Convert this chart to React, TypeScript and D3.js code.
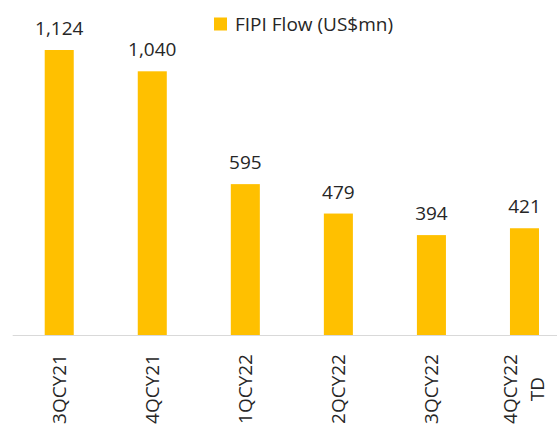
import React from 'react';
import * as d3 from 'd3';

const categories = ['3QCY21', '4QCY21', '1QCY22', '2QCY22', '3QCY22', '4QCY22 TD'];
const flows = [1124, 1040, 595, 479, 394, 421];
const seriesName = 'FIPI Flow (US$mn)';

const W = 557, H = 429;
const baseY = 335;
const font = '"Open Sans", "Noto Sans", sans-serif';

export default function App() {
  const x = d3.scaleBand<string>()
    .domain(categories)
    .range([12.7, 571])
    .paddingInner(0.688)
    .paddingOuter(0.344);

  const y = d3.scaleLinear()
    .domain([0, 1124])
    .range([baseY, 50]);

  const fmt = d3.format(',');

  return (
    <svg width={W} height={H} style={{ position: 'absolute', left: 0, top: 0 }} fontFamily={font}>
      <rect width={W} height={H} fill="#fff" />
      {/* legend */}
      <rect x={214} y={17.5} width={13} height={13} fill="#FFC000" />
      <text x={235} y={31} fontSize={19} fill="#262626">{seriesName}</text>

      {/* bars */}
      {categories.map((c, i) => (
        <rect key={c} x={x(c)} y={y(flows[i])} width={x.bandwidth()}
          height={baseY - y(flows[i])} fill="#FFC000" />
      ))}

      {/* value labels */}
      {categories.map((c, i) => (
        <text key={c} x={x(c)! + x.bandwidth() / 2} y={y(flows[i]) - 15}
          textAnchor="middle" fontSize={19} fill="#262626">{fmt(flows[i])}</text>
      ))}

      {/* axis */}
      <line x1={12.7} x2={W} y1={baseY + 0.5} y2={baseY + 0.5} stroke="#d9d9d9" strokeWidth={1} />

      {/* category labels */}
      {categories.map((c) => {
        const lines = c.split(' ');
        const cx = x(c)! + x.bandwidth() / 2;
        return (
          <text key={c} transform={`translate(${cx},389) rotate(-90)`}
            textAnchor="middle" fontSize={19} fill="#262626">
            {lines.map((l, j) => (
              <tspan key={j} x={0} y={(j - (lines.length - 1) / 2) * 27 + 6.5}>{l}</tspan>
            ))}
          </text>
        );
      })}
    </svg>
  );
}
